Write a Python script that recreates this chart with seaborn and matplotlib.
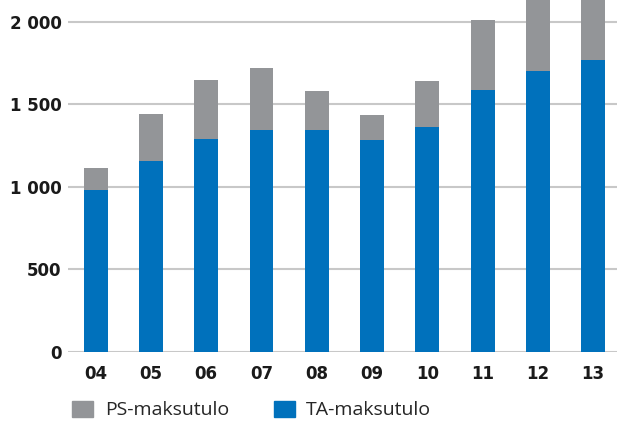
import matplotlib
matplotlib.use("Agg")
import matplotlib.pyplot as plt
import matplotlib.ticker as mticker
from matplotlib.patches import Patch
import pandas as pd
import seaborn as sns

# Data
years = ["04", "05", "06", "07", "08", "09", "10", "11", "12", "13"]
ta_maksutulo = [982, 1160, 1292, 1347, 1347, 1287, 1366, 1588, 1705, 1770]
ps_maksutulo = [134, 280, 355, 375, 235, 152, 276, 424, 520, 510]
y_ticks = [0, 500, 1000, 1500, 2000]

blue = "#0071bc"
grey = "#939598"
grid_col = "#c8c8c8"

df = pd.DataFrame({"year": years, "TA": ta_maksutulo, "PS": ps_maksutulo})
df["total"] = df["TA"] + df["PS"]

sns.set_style("white")
plt.rcParams["font.family"] = ["Open Sans", "DejaVu Sans"]

fig = plt.figure(figsize=(6.17, 4.23), dpi=100)
ax = fig.add_axes([68 / 617, 71 / 423, 1 - 68 / 617, 1 - 71 / 423])

# stacked: grey total behind, blue on top
sns.barplot(data=df, x="year", y="total", color=grey, width=0.43,
            saturation=1, linewidth=0, edgecolor="none", ax=ax, zorder=2)
sns.barplot(data=df, x="year", y="TA", color=blue, width=0.43,
            saturation=1, linewidth=0, edgecolor="none", ax=ax, zorder=3)

ax.set_xlim(-0.5, 9.43)
ax.set_ylim(0, 2133)
ax.set_yticks(y_ticks)
ax.yaxis.set_major_formatter(
    mticker.FuncFormatter(lambda v, p: f"{int(v):,}".replace(",", " ")))
ax.yaxis.grid(True, color=grid_col, linewidth=1.5, zorder=0)
ax.set_axisbelow(True)
for s in ax.spines.values():
    s.set_visible(False)

ax.set_xlabel("")
ax.set_ylabel("")
ax.tick_params(axis="y", length=0, pad=4.5, labelsize=12)
ax.tick_params(axis="x", which="major", length=0, pad=9.5, labelsize=12)
ax.set_xticks([i + 0.5 for i in range(len(years) - 1)], minor=True)
ax.tick_params(axis="x", which="minor", length=7, width=1.2, color=grid_col,
               direction="out")
for lab in ax.get_xticklabels() + ax.get_yticklabels():
    lab.set_fontweight("bold")
    lab.set_family("DejaVu Sans")
    lab.set_color("#1a1a1a")

handles = [Patch(color=grey, label="PS-maksutulo"),
           Patch(color=blue, label="TA-maksutulo")]
fig.legend(handles=handles, loc="center left",
           bbox_to_anchor=(72 / 617, 1 - 410 / 423), ncol=2, frameon=False,
           fontsize=14, handlelength=1.08, handleheight=0.92,
           handletextpad=0.6, columnspacing=2.3, borderpad=0,
           borderaxespad=0)

fig.savefig("out.png", dpi=100)
